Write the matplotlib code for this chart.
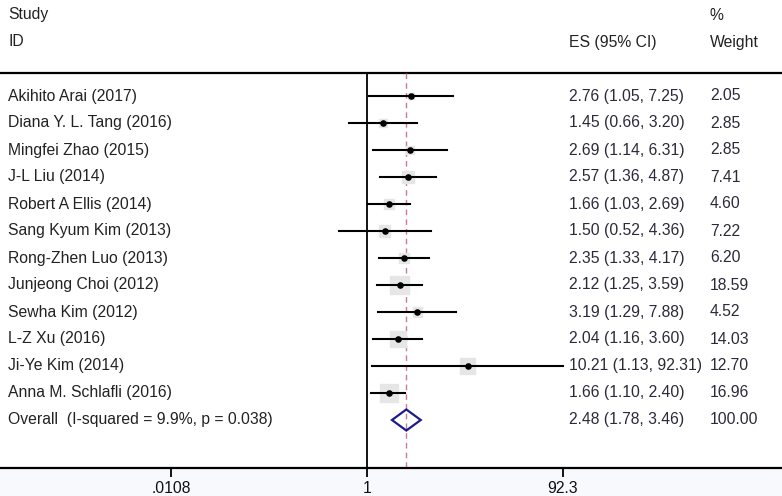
import matplotlib

matplotlib.use("Agg")

import matplotlib.pyplot as plt
from matplotlib.patches import Polygon
from matplotlib.ticker import NullLocator

plt.rcParams["font.family"] = ["Liberation Sans", "DejaVu Sans"]

studies = [
    "Akihito Arai (2017)",
    "Diana Y. L. Tang (2016)",
    "Mingfei Zhao (2015)",
    "J-L Liu (2014)",
    "Robert A Ellis (2014)",
    "Sang Kyum Kim (2013)",
    "Rong-Zhen Luo (2013)",
    "Junjeong Choi (2012)",
    "Sewha Kim (2012)",
    "L-Z Xu (2016)",
    "Ji-Ye Kim (2014)",
    "Anna M. Schlafli (2016)",
]
es = [2.76, 1.45, 2.69, 2.57, 1.66, 1.50, 2.35, 2.12, 3.19, 2.04, 10.21, 1.66]
lo = [1.05, 0.66, 1.14, 1.36, 1.03, 0.52, 1.33, 1.25, 1.29, 1.16, 1.13, 1.10]
hi = [7.25, 3.20, 6.31, 4.87, 2.69, 4.36, 4.17, 3.59, 7.88, 3.60, 92.31, 2.40]
weight = [2.05, 2.85, 2.85, 7.41, 4.60, 7.22, 6.20, 18.59, 4.52, 14.03, 12.70, 16.96]

overall_label = "Overall  (I-squared = 9.9%, p = 0.038)"
overall_es, overall_lo, overall_hi = 2.48, 1.78, 3.46
overall_weight = 100.00

xticks = [0.0108, 1, 92.3]
xtick_labels = [".0108", "1", "92.3"]

W, H = 782, 496
fig = plt.figure(figsize=(W / 100, H / 100), dpi=100, facecolor="#f7f9fc")
ax = fig.add_axes([0, 28 / H, 1, 1 - 28 / H])
ax.set_facecolor("white")
ax.set_xscale("log")

# pixel x = 367 + 99.7 * log10(value)
ax.set_xlim(10 ** (-367 / 99.7), 10 ** ((W - 367) / 99.7))
# rows are 27 px apart, first row at y = 96 px, axis line at y = 468 px
ax.set_ylim((468 - 96) / 27, -96 / 27)
top = (73 - 96) / 27
bottom = (468 - 96) / 27

for s in ["top", "left", "right"]:
    ax.spines[s].set_visible(False)
ax.spines["bottom"].set_linewidth(1.6)
ax.set_yticks([])
ax.xaxis.set_minor_locator(NullLocator())
ax.set_xticks(xticks)
ax.set_xticklabels(xtick_labels, fontsize=11.3, color="#111111")
ax.tick_params(axis="x", direction="out", length=6.5, width=1.3, pad=3)

ax.axhline(top, color="black", linewidth=1.6)
ax.plot([1, 1], [top, bottom], color="black", linewidth=1.3)
ax.plot([overall_es, overall_es], [top, bottom], color="#cc7a8c",
        linewidth=1.0, dashes=(4, 3))

rows = list(range(len(studies)))
box_sizes = [(4.4 * w ** 0.5 * 0.72) ** 2 for w in weight]
ax.scatter(es, rows, s=box_sizes, marker="s", color="#e6e6e6", zorder=2)
for r, l, h in zip(rows, lo, hi):
    ax.plot([l, h], [r, r], color="black", linewidth=1.5, zorder=3)
ax.scatter(es, rows, s=14, color="black", zorder=4)

r_ov = len(studies)
diamond = Polygon(
    [(overall_lo, r_ov), (overall_es, r_ov - 0.39),
     (overall_hi, r_ov), (overall_es, r_ov + 0.39)],
    closed=True, fill=False, edgecolor="#1c1c8c", linewidth=1.6, zorder=4)
ax.add_patch(diamond)

tf = ax.get_yaxis_transform()
fs = 11.3
label_x, es_x, w_x = 8 / W, 569 / W, 710 / W
ax.text(label_x, -3, "Study", transform=tf, fontsize=fs, va="center", color="#222222")
ax.text(label_x, -2, "ID", transform=tf, fontsize=fs, va="center", color="#222222")
ax.text(es_x, -2, "ES (95% CI)", transform=tf, fontsize=fs, va="center", color="#222222")
ax.text(w_x, -3, "%", transform=tf, fontsize=fs, va="center", color="#222222")
ax.text(w_x, -2, "Weight", transform=tf, fontsize=fs, va="center", color="#222222")

for r, name, e, l, h, w in zip(rows, studies, es, lo, hi, weight):
    ax.text(label_x, r, name, transform=tf, fontsize=fs, va="center", color="#222222")
    ax.text(es_x, r, f"{e:.2f} ({l:.2f}, {h:.2f})", transform=tf, fontsize=fs,
            va="center", color="#2a2a3a")
    ax.text(w_x, r, f"{w:.2f}", transform=tf, fontsize=fs, va="center", color="#2a2a3a")

ax.text(label_x, r_ov, overall_label, transform=tf, fontsize=fs, va="center", color="#222222")
ax.text(es_x, r_ov, f"{overall_es:.2f} ({overall_lo:.2f}, {overall_hi:.2f})",
        transform=tf, fontsize=fs, va="center", color="#2a2a3a")
ax.text(w_x, r_ov, f"{overall_weight:.2f}", transform=tf, fontsize=fs,
        va="center", color="#2a2a3a")

fig.savefig("out.png", dpi=100, facecolor=fig.get_facecolor())
